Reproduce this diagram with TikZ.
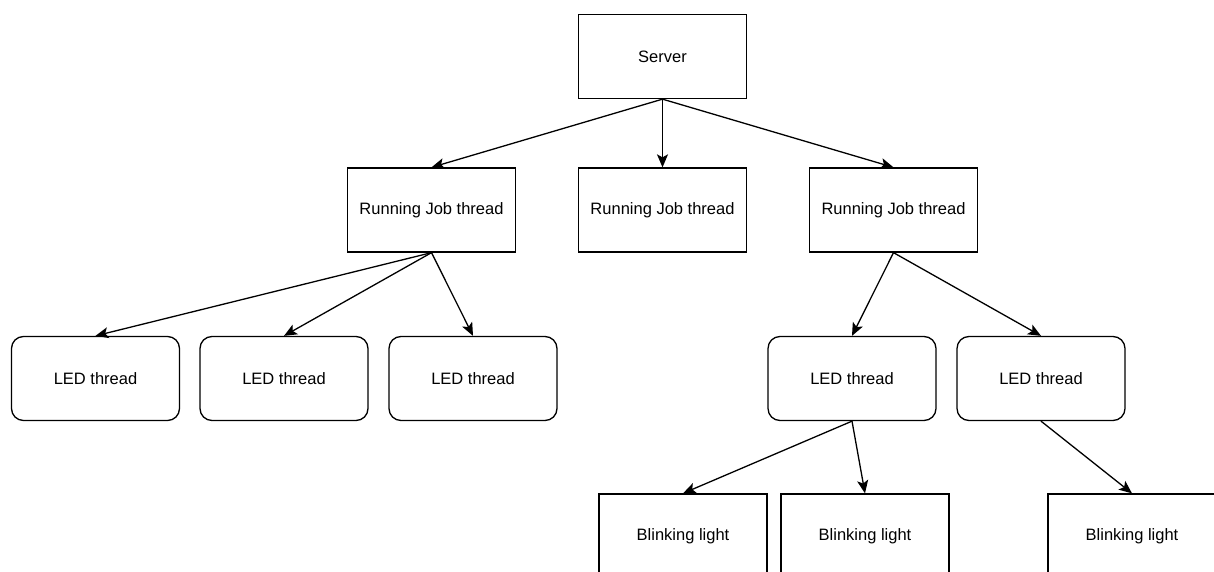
\documentclass[tikz,border=0pt]{standalone}
\usepackage{fontspec}
\setmainfont{Liberation Sans}
\usetikzlibrary{arrows.meta}
\begin{document}
\begin{tikzpicture}[x=1pt,y=-1pt,
  font=\fontsize{16.5}{19}\selectfont,
  sqbox/.style={draw, line width=1.3pt, rectangle, minimum width=168pt, minimum height=84pt, inner sep=0pt, fill=white},
  rbox/.style={sqbox, rounded corners=12pt},
  conn/.style={draw, line width=1.3pt, -{Stealth[length=13pt,width=11pt,inset=3pt]}}
]
\useasboundingbox (0,0) rectangle (1214,572);
\clip (0,0) rectangle (1214,572);
\fill[white] (0,0) rectangle (1214,572);

\node[sqbox] (srv) at (662.5,56.5) {Server};
\node[sqbox] (rj1) at (431.5,210) {Running Job thread};
\node[sqbox] (rj2) at (662.5,210) {Running Job thread};
\node[sqbox] (rj3) at (893.5,210) {Running Job thread};

\node[rbox] (led1) at (95.5,378.5) {LED thread};
\node[rbox] (led2) at (284,378.5) {LED thread};
\node[rbox] (led3) at (473,378.5) {LED thread};
\node[rbox] (led4) at (852,378.5) {LED thread};
\node[rbox] (led5) at (1041,378.5) {LED thread};

\node[sqbox] (bl1) at (683,536) {Blinking light};
\node[sqbox] (bl2) at (865,536) {Blinking light};
\node[sqbox] (bl3) at (1132,536) {Blinking light};

\draw[conn] (srv.south) -- (rj1.north);
\draw[conn] (srv.south) -- (rj2.north);
\draw[conn] (srv.south) -- (rj3.north);
\draw[conn] (rj1.south) -- (led1.north);
\draw[conn] (rj1.south) -- (led2.north);
\draw[conn] (rj1.south) -- (led3.north);
\draw[conn] (rj3.south) -- (led4.north);
\draw[conn] (rj3.south) -- (led5.north);
\draw[conn] (led4.south) -- (bl1.north);
\draw[conn] (led4.south) -- (bl2.north);
\draw[conn] (led5.south) -- (bl3.north);
\end{tikzpicture}
\end{document}
